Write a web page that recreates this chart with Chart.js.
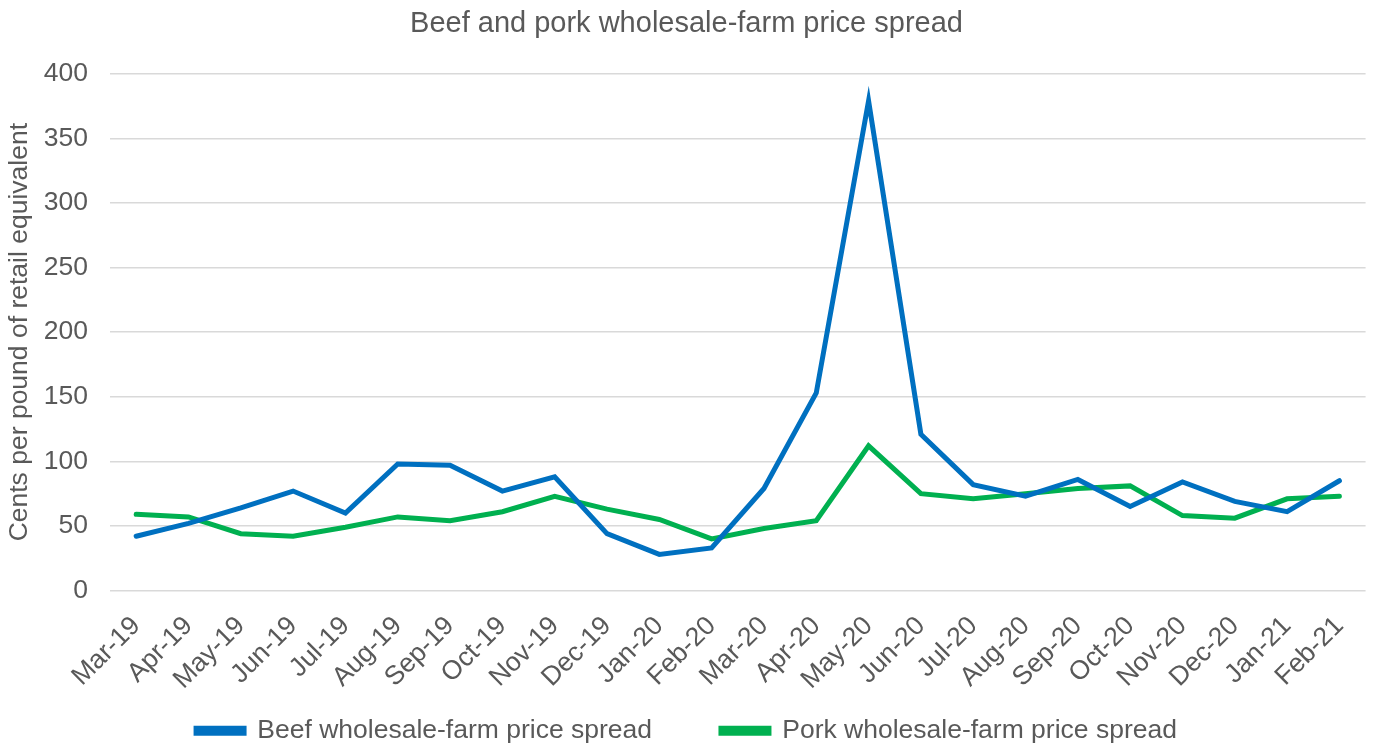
<!DOCTYPE html>
<html>
<head>
<meta charset="utf-8">
<script src="https://cdn.jsdelivr.net/npm/chart.js"></script>
<style>
  html, body { margin: 0; padding: 0; background: #fff; }
  #wrap { width: 1374px; height: 745px; position: relative; }
</style>
</head>
<body>
<div id="wrap"><canvas id="spreadChart"></canvas></div>
<script>
// Dati
const months = ['Mar-19','Apr-19','May-19','Jun-19','Jul-19','Aug-19','Sep-19','Oct-19','Nov-19','Dec-19',
  'Jan-20','Feb-20','Mar-20','Apr-20','May-20','Jun-20','Jul-20','Aug-20','Sep-20','Oct-20','Nov-20','Dec-20',
  'Jan-21','Feb-21'];
const beefSpread = [42, 52, 64, 77, 60, 98, 97, 77, 88, 44, 28, 33, 79, 153, 379, 121, 82, 73, 86, 65, 84, 69, 61, 85];
const porkSpread = [59, 57, 44, 42, 49, 57, 54, 61, 73, 63, 55, 40, 48, 54, 112, 75, 71, 75, 79, 81, 58, 56, 71, 73];
const yTicks = [0, 50, 100, 150, 200, 250, 300, 350, 400];

const grey = '#595959';
const fontFam = '"Liberation Sans", Arial, sans-serif';

new Chart(document.getElementById('spreadChart'), {
    type: 'line',
    data: {
        labels: months,
        datasets: [
            {
                label: 'Beef wholesale-farm price spread',
                data: beefSpread,
                borderColor: '#0070C0',
                backgroundColor: '#0070C0',
                borderWidth: 5,
                pointRadius: 0,
                tension: 0,
                borderCapStyle: 'round'
            },
            {
                label: 'Pork wholesale-farm price spread',
                data: porkSpread,
                borderColor: '#00B050',
                backgroundColor: '#00B050',
                borderWidth: 5,
                pointRadius: 0,
                tension: 0,
                borderCapStyle: 'round'
            }
        ]
    },
    options: {
        responsive: true,
        maintainAspectRatio: false,
        animation: false,
        layout: { padding: { left: 4, right: 5, top: 0, bottom: -9 } },
        plugins: {
            title: {
                display: true,
                text: 'Beef and pork wholesale-farm price spread',
                color: grey,
                font: { family: fontFam, size: 29, weight: 'normal' },
                padding: { top: 7, bottom: 32 }
            },
            legend: {
                position: 'bottom',
                labels: {
                    color: grey,
                    font: { family: fontFam, size: 26.5 },
                    boxWidth: 48,
                    boxHeight: 5,
                    padding: 10,
                    // spazio orizzontale tra le due voci
                    generateLabels: chart => {
                        const items = Chart.defaults.plugins.legend.labels.generateLabels(chart);
                        items[0].text += '        ';
                        return items;
                    }
                }
            },
            tooltip: { enabled: false }
        },
        scales: {
            x: {
                offset: true,
                grid: { display: false },
                border: { display: false },
                ticks: {
                    color: grey,
                    font: { family: fontFam, size: 26.5 },
                    maxRotation: 45,
                    minRotation: 45,
                    autoSkip: false,
                    padding: 12
                }
            },
            y: {
                min: 0,
                max: 400,
                afterBuildTicks: axis => { axis.ticks = yTicks.map(v => ({ value: v })); },
                grid: { color: '#d9d9d9', lineWidth: 1.5, drawTicks: false },
                border: { display: false },
                ticks: {
                    color: grey,
                    font: { family: fontFam, size: 26.5 },
                    padding: 22
                },
                title: {
                    display: true,
                    text: 'Cents per pound of retail equivalent',
                    color: grey,
                    font: { family: fontFam, size: 26.5 },
                    padding: { top: 0, bottom: -14 }
                }
            }
        }
    }
});
</script>
</body>
</html>
